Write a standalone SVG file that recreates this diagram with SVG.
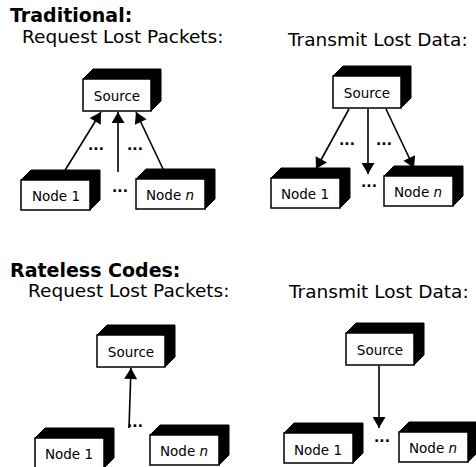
<svg xmlns="http://www.w3.org/2000/svg" xmlns:xlink="http://www.w3.org/1999/xlink" width="476" height="467" viewBox="0 0 476 467">
<style>
.dk{fill:#000;stroke:#000;stroke-width:1}
.fr{fill:#fff;stroke:#000;stroke-width:1.5}
.lbl{font-family:"DejaVu Sans",sans-serif;font-size:13.5px;text-anchor:middle;fill:#000}
.ttl{font-family:"DejaVu Sans",sans-serif;font-size:19px;font-weight:bold;fill:#000}
.sub{font-family:"DejaVu Sans",sans-serif;font-size:18.5px;fill:#000}
.dots{font-family:"DejaVu Sans",sans-serif;font-size:14px;font-weight:bold;text-anchor:middle;fill:#000}
.con line{stroke:#000;stroke-width:1.6;marker-end:url(#ah)}
</style>
<defs>
<marker id="ah" markerUnits="userSpaceOnUse" markerWidth="13" markerHeight="13" refX="11" refY="6.5" orient="auto" viewBox="0 0 11 13">
<path d="M0,0 L11,6.5 L0,13 Z" fill="#000"/>
</marker>
<g id="src">
<polygon class="dk" points="0,0 10,-10 78,-10 68,0"/>
<polygon class="dk" points="68,0 78,-10 78,22 68,32"/>
<rect class="fr" x="0" y="0" width="68" height="32"/>
</g>
<g id="nd">
<polygon class="dk" points="0,0 10,-10 79,-10 69,0"/>
<polygon class="dk" points="69,0 79,-10 79,20 69,30"/>
<rect class="fr" x="0" y="0" width="69" height="30"/>
</g>
</defs>
<rect width="476" height="467" fill="#fff"/>

<text class="ttl" x="10" y="22">Traditional:</text>
<text class="sub" x="22" y="43">Request Lost Packets:</text>
<text class="sub" x="288" y="46">Transmit Lost Data:</text>
<text class="ttl" x="10" y="277">Rateless Codes:</text>
<text class="sub" x="28" y="297">Request Lost Packets:</text>
<text class="sub" x="289" y="298">Transmit Lost Data:</text>

<g id="connectors" class="con">
<line x1="64" y1="172" x2="101" y2="112"/>
<line x1="118" y1="172" x2="118" y2="112"/>
<line x1="164" y1="171" x2="136" y2="112"/>
<line x1="349" y1="109" x2="316" y2="169"/>
<line x1="368" y1="109" x2="368" y2="174"/>
<line x1="386" y1="109" x2="414" y2="168"/>
<line x1="129" y1="428" x2="131" y2="368"/>
<line x1="379" y1="366" x2="379" y2="428"/>
</g>

<g id="tl-source"><use xlink:href="#src" x="83" y="79"/><text class="lbl" x="117" y="101">Source</text></g>
<g id="tl-node1"><use xlink:href="#nd" x="21" y="180"/><text class="lbl" x="56" y="201">Node 1</text></g>
<g id="tl-noden"><use xlink:href="#nd" x="136" y="179"/><text class="lbl" x="170" y="200">Node <tspan font-style="italic">n</tspan></text></g>

<g id="tr-source"><use xlink:href="#src" x="333" y="76"/><text class="lbl" x="367" y="98">Source</text></g>
<g id="tr-node1"><use xlink:href="#nd" x="271" y="178"/><text class="lbl" x="305" y="199">Node 1</text></g>
<g id="tr-noden"><use xlink:href="#nd" x="384" y="176"/><text class="lbl" x="418" y="197">Node <tspan font-style="italic">n</tspan></text></g>

<g id="bl-source"><use xlink:href="#src" x="97" y="335"/><text class="lbl" x="131" y="357">Source</text></g>
<g id="bl-node1"><use xlink:href="#nd" x="35" y="438"/><text class="lbl" x="69" y="459">Node 1</text></g>
<g id="bl-noden"><use xlink:href="#nd" x="150" y="435"/><text class="lbl" x="184" y="456">Node <tspan font-style="italic">n</tspan></text></g>

<g id="br-source"><use xlink:href="#src" x="346" y="333"/><text class="lbl" x="380" y="355">Source</text></g>
<g id="br-node1"><use xlink:href="#nd" x="284" y="433"/><text class="lbl" x="318" y="455">Node 1</text></g>
<g id="br-noden"><use xlink:href="#nd" x="399" y="432"/><text class="lbl" x="433" y="453">Node <tspan font-style="italic">n</tspan></text></g>

<g id="dots">
<text class="dots" x="96" y="150">...</text>
<text class="dots" x="135" y="150">...</text>
<text class="dots" x="120" y="192">...</text>
<text class="dots" x="347" y="145">...</text>
<text class="dots" x="384" y="145">...</text>
<text class="dots" x="369" y="187">...</text>
<text class="dots" x="135" y="427">...</text>
<text class="dots" x="382" y="442">...</text>
</g>
</svg>
